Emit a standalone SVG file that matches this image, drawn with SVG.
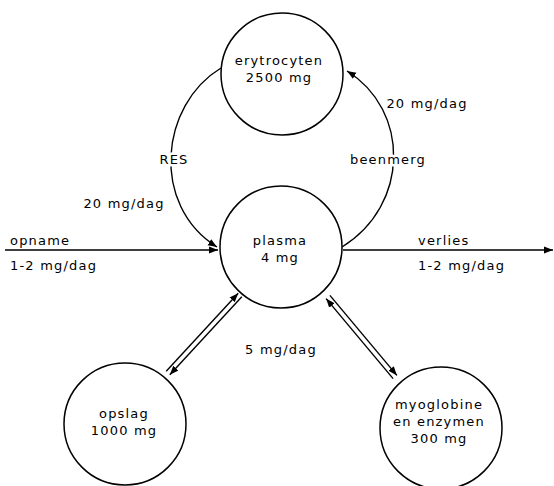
<svg xmlns="http://www.w3.org/2000/svg" width="554" height="486" viewBox="0 0 554 486">
<style>
  .node circle { fill: #fff; stroke: #000; stroke-width: 1.5; }
  text { font-family: "DejaVu Sans", "Liberation Sans", sans-serif; font-size: 13px; letter-spacing: 1.2px; fill: #000; }
  .c { text-anchor: middle; }
  .halo { stroke: #fff; stroke-width: 5px; paint-order: stroke; stroke-linejoin: round; }
  .conn path, .conn line { fill: none; stroke: #000; stroke-width: 1.4; }
</style>
<defs>
  <marker id="arr" markerUnits="userSpaceOnUse" markerWidth="10" markerHeight="8" refX="9" refY="4" orient="auto-start-reverse">
    <path d="M0,0.5 L9,4 L0,7.5 Z" fill="#000"/>
  </marker>
</defs>

<g id="connectors" class="conn">
  <path d="M5,250 H218" marker-end="url(#arr)"/>
  <path d="M343,250 H553" marker-end="url(#arr)"/>
  <path d="M221,68 C160,105 150,205 217,247" marker-end="url(#arr)"/>
  <path d="M342,247 C410,205 410,110 347,71" marker-end="url(#arr)"/>
  <line x1="238.2" y1="293.3" x2="166.2" y2="371.3" marker-start="url(#arr)"/>
  <line x1="241.8" y1="296.7" x2="169.8" y2="374.7" marker-end="url(#arr)"/>
  <line x1="326.1" y1="298.6" x2="393.1" y2="378.6" marker-start="url(#arr)"/>
  <line x1="329.9" y1="295.4" x2="396.9" y2="375.4" marker-end="url(#arr)"/>
</g>

<g id="labels">
  <text class="c halo" x="174" y="164">RES</text>
  <text class="c" x="124" y="208">20 mg/dag</text>
  <text class="c halo" x="388" y="164">beenmerg</text>
  <text class="c" x="427" y="108">20 mg/dag</text>
  <text x="10" y="245">opname</text>
  <text x="10" y="270">1-2 mg/dag</text>
  <text x="418" y="245">verlies</text>
  <text x="418" y="270">1-2 mg/dag</text>
  <text class="c" x="281" y="354">5 mg/dag</text>
</g>

<g id="erytrocyten" class="node">
  <circle cx="282" cy="74" r="61"/>
  <text class="c" x="279" y="65">erytrocyten</text>
  <text class="c" x="279" y="82">2500 mg</text>
</g>
<g id="plasma" class="node">
  <circle cx="281" cy="247" r="61"/>
  <text class="c" x="280" y="245">plasma</text>
  <text class="c" x="280" y="262">4 mg</text>
</g>
<g id="opslag" class="node">
  <circle cx="125" cy="424" r="61"/>
  <text class="c" x="124" y="418">opslag</text>
  <text class="c" x="124" y="435">1000 mg</text>
</g>
<g id="myoglobine" class="node">
  <circle cx="441" cy="428" r="61"/>
  <text class="c" x="439" y="409">myoglobine</text>
  <text class="c" x="439" y="426">en enzymen</text>
  <text class="c" x="439" y="443">300 mg</text>
</g>
</svg>
